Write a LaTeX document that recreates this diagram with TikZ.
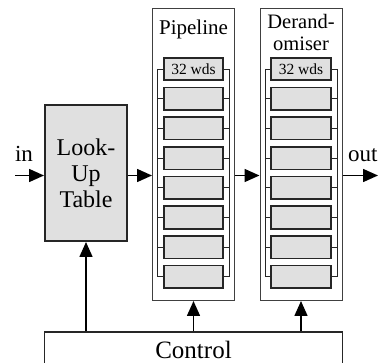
\documentclass[tikz,border=0pt]{standalone}
\usepackage{fontspec}
\setmainfont{Liberation Serif}
\usetikzlibrary{arrows.meta,calc}
\definecolor{boxgray}{RGB}{224,224,224}
\begin{document}
\begin{tikzpicture}[x=1pt,y=-1pt,
  reg/.style={draw=black!85, line width=1.6pt, fill=boxgray, minimum width=59.5pt, minimum height=22.5pt, inner sep=0pt, font=\fontsize{15.5}{16}\selectfont},
  outer/.style={draw=black!75, line width=0.8pt, minimum width=82.2pt, minimum height=292.2pt, inner sep=0pt},
  arr/.style={line width=1.6pt, -{Triangle[length=15pt,width=13pt]}},
  bus/.style={line width=0.8pt, draw=black!85},
  lbl/.style={inner sep=0pt}]
\clip (0,0) rectangle (378,363);
% outer boxes
\node[outer] (pipe) at (193.5,154.5) {};
\node[outer] (der) at (301,154.5) {};
% titles
\node[lbl, font=\fontsize{21}{22}\selectfont, anchor=base] (ptitle) at (193.5,35) {Pipeline};
\node[lbl, font=\fontsize{20.5}{22}\selectfont, align=center] (dtitle) at (301,32) {Derand-\\omiser};
% registers
\node[reg] (p0) at (193.5,69) {32 wds};
\node[reg] (d0) at (301,69) {32 wds};
\foreach \i in {1,...,7} {
  \node[reg] (p\i) at (193.5,69+29.7*\i) {};
  \node[reg] (d\i) at (301,69+29.7*\i) {};
}
% buses
\draw[bus] ($(p0.west)+(-5.5,0)$) -- ($(p7.west)+(-5.5,0)$);
\draw[bus] ($(p0.east)+(5.5,0)$) -- ($(p7.east)+(5.5,0)$);
\draw[bus] ($(d0.west)+(-5.5,0)$) -- ($(d7.west)+(-5.5,0)$);
\draw[bus] ($(d0.east)+(5.5,0)$) -- ($(d7.east)+(5.5,0)$);
\foreach \i in {0,...,7} {
  \draw[bus] (p\i.west) -- ++(-5.5,0);
  \draw[bus] (p\i.east) -- ++(5.5,0);
  \draw[bus] (d\i.west) -- ++(-5.5,0);
  \draw[bus] (d\i.east) -- ++(5.5,0);
}
% look-up table
\node[draw=black!85, line width=1.6pt, fill=boxgray, minimum width=82.4pt, minimum height=136.4pt, align=center, inner sep=0pt, font=\fontsize{24}{26}\selectfont] (lut) at (86,173) {Look-\\Up\\Table};
% control
\node[draw=black!85, line width=1.2pt, minimum width=297.8pt, minimum height=36pt, inner sep=0pt, font=\fontsize{25}{26}\selectfont] (ctrl) at (193.5,350) {Control};
% data path
\coordinate (inl) at (15,175.5);
\coordinate (m) at (0,175.5);
\coordinate (outr) at (378,175.5);
\node[lbl, font=\fontsize{23}{24}\selectfont, anchor=base] (inlab) at (24,162) {in};
\node[lbl, font=\fontsize{23}{24}\selectfont, anchor=base west] (outlab) at (348,162) {out};
\draw[arr] (inl) -- (lut.west |- inl);
\draw[arr] (lut.east |- m) -- (pipe.west |- m);
\draw[arr] (pipe.east |- m) -- (der.west |- m);
\draw[arr] (der.east |- outr) -- (outr);
% control arrows
\draw[arr] (ctrl.north -| lut.south) -- (lut.south);
\draw[arr] (ctrl.north -| pipe.south) -- (pipe.south);
\draw[arr] (ctrl.north -| der.south) -- (der.south);
\end{tikzpicture}
\end{document}
